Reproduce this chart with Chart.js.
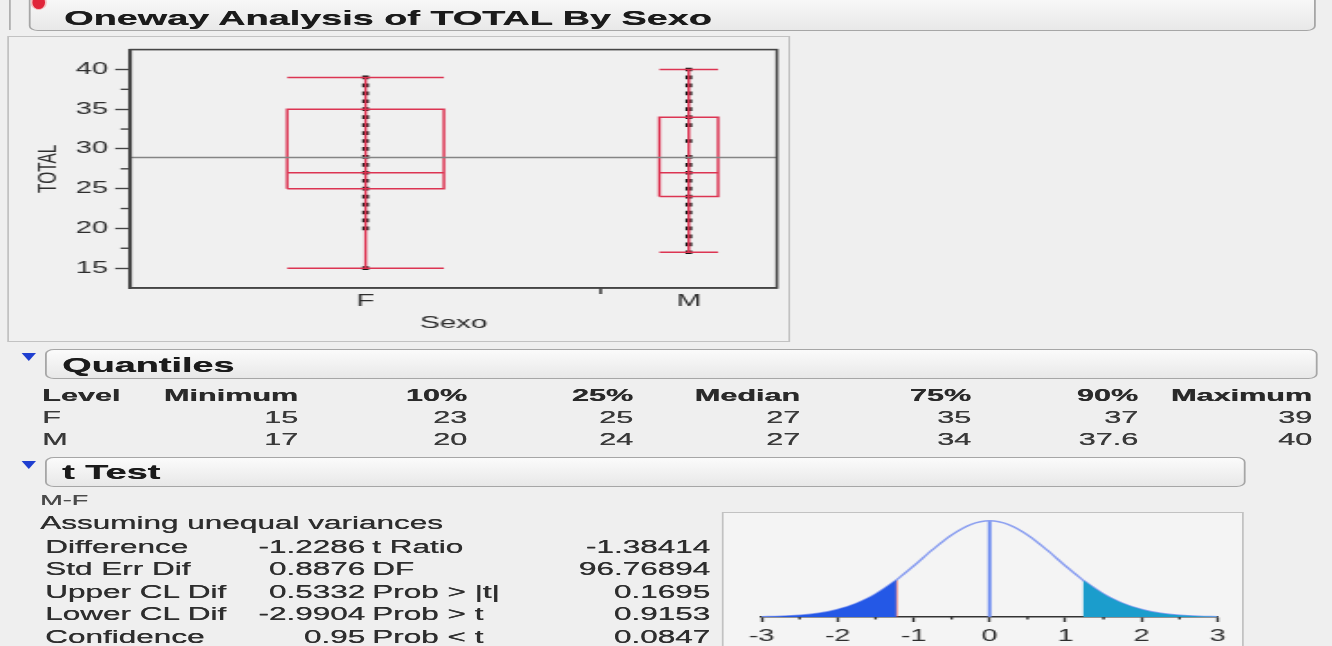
<!DOCTYPE html>
<html>
<head>
<meta charset="utf-8">
<script src="https://cdn.jsdelivr.net/npm/chart.js@4.4.1/dist/chart.umd.min.js"></script>
<style>
  html, body { margin: 0; padding: 0; width: 1332px; height: 646px; overflow: hidden; background: #efefef; }
  #page { position: absolute; left: 0; top: 0; height: 646px; transform-origin: 0 0;
          font-family: "Liberation Sans", Arial, sans-serif; color: #2e2e2e; }
  .t { position: absolute; white-space: nowrap; text-shadow: 0.3px 0 0 currentColor; }
  .bar { position: absolute; box-sizing: border-box; border: 1px solid #a6a6a6; border-radius: 5px;
         background: linear-gradient(#fbfbfb, #e8e8e8); }
  .panel { position: absolute; box-sizing: border-box; border: 1px solid #c2c2c2; }
  .tri { position: absolute; width: 0; height: 0; border-left: 4px solid transparent; border-right: 4px solid transparent;
         border-top: 8px solid #1f3fd0; }
  .chartbox { position: absolute; }
</style>
</head>
<body>
<div id="page"></div>
<script>
// Horizontal stretch of the whole report
const K = 1.8;
const PAGE_W = 1332;

// ---- data ----
const levels = ['F', 'M'];
const groupSize = [80, 30];
const quantileNames = ['Minimum', '10%', '25%', 'Median', '75%', '90%', 'Maximum'];
const quantF = [15, 23, 25, 27, 35, 37, 39];
const quantM = [17, 20, 24, 27, 34, 37.6, 40];
const pointsF = [15, 20, 21, 22, 23, 24, 25, 26, 27, 28, 29, 30, 31, 32, 33, 34, 35, 36, 37, 38, 39];
const pointsM = [17, 18, 19, 20, 21, 22, 23, 24, 25, 26, 27, 28, 29, 31, 33, 34, 35, 36, 37, 38, 39, 40];
const grandMean = 28.92;
const yTickValues = [15, 20, 25, 30, 35, 40];

const tLeftLabels = ['Difference', 'Std Err Dif', 'Upper CL Dif', 'Lower CL Dif', 'Confidence'];
const tLeftValues = [-1.2286, 0.8876, 0.5332, -2.9904, 0.95];
const tRightLabels = ['t Ratio', 'DF', 'Prob > |t|', 'Prob > t', 'Prob < t'];
const tRightValues = [-1.38414, 96.76894, 0.1695, 0.9153, 0.0847];

// density of the difference under the null (relative height)
const densityX = [-3, -2.75, -2.5, -2.25, -2, -1.75, -1.5, -1.25, -1.2286, -1, -0.75, -0.5, -0.25, 0,
                  0.25, 0.5, 0.75, 1, 1.2286, 1.25, 1.5, 1.75, 2, 2.25, 2.5, 2.75, 3];
const densityY = [0.003, 0.008, 0.019, 0.040, 0.079, 0.143, 0.240, 0.371, 0.384, 0.530, 0.700, 0.853, 0.961, 1.000,
                  0.961, 0.853, 0.700, 0.530, 0.384, 0.371, 0.240, 0.143, 0.079, 0.040, 0.019, 0.008, 0.003];
const tAxisTicks = [-3, -2, -1, 0, 1, 2, 3];

// ---- page helpers (x given in final screen pixels) ----
const page = document.getElementById('page');
page.style.width = (PAGE_W / K) + 'px';
page.style.transform = 'scaleX(' + K + ')';

function addText(str, x, yc, o) {
  o = o || {};
  const size = o.size || 17.5;
  const lh = Math.round(size * 1.2);
  const d = document.createElement('div');
  d.className = 't';
  d.textContent = str;
  d.style.fontSize = size + 'px';
  d.style.lineHeight = lh + 'px';
  d.style.top = (yc - lh / 2) + 'px';
  if (o.bold) d.style.fontWeight = 'bold';
  if (o.color) d.style.color = o.color;
  if (o.align === 'right') d.style.right = ((PAGE_W - x) / K) + 'px';
  else d.style.left = (x / K) + 'px';
  page.appendChild(d);
  return d;
}
function addBox(cls, x1, y1, x2, y2, extra) {
  const d = document.createElement('div');
  d.className = cls;
  d.style.left = (x1 / K) + 'px';
  d.style.top = y1 + 'px';
  d.style.width = ((x2 - x1) / K) + 'px';
  d.style.height = (y2 - y1) + 'px';
  if (extra) Object.assign(d.style, extra);
  page.appendChild(d);
  return d;
}
function addTri(x, y) {
  const d = document.createElement('div');
  d.className = 'tri';
  d.style.left = (x / K) + 'px';
  d.style.top = y + 'px';
  page.appendChild(d);
}

// ---- report frame ----
addBox('bar', 28, -8, 1316, 31);
addBox('panel', 9, 0, 10, 30, {borderColor: '#b0b0b0', borderWidth: '0 0 0 1px'});
addBox('t', 31, -5, 44, 8, {borderRadius: '50%', background: '#e0253a', border: '1px solid #f4c0c0', textShadow: 'none'});
addText('Oneway Analysis of TOTAL By Sexo', 64, 17, {size: 21, bold: true, color: '#1b1b1b'});

addBox('panel', 8, 36, 790, 342, {background: '#f0f0f0'});

// Quantiles block
addTri(22, 353);
addBox('bar', 45, 349, 1318, 379);
addText('Quantiles', 62, 364, {size: 21, bold: true, color: '#1b1b1b'});
const colRight = [298, 467, 633, 800, 971, 1138, 1312];
const rowY = [418, 440];
addText('Level', 42, 396, {size: 17, bold: true, color: '#2a2a2a'});
quantileNames.forEach((q, i) => addText(q, colRight[i], 396, {size: 17, bold: true, color: '#2a2a2a', align: 'right'}));
[quantF, quantM].forEach((row, r) => {
  addText(levels[r], 42, rowY[r], {size: 17, color: '#3a3a3a'});
  row.forEach((v, i) => addText(String(v), colRight[i], rowY[r], {size: 17, color: '#3a3a3a', align: 'right'}));
});

// t Test block
addTri(22, 461);
addBox('bar', 45, 457, 1245, 487);
addText('t Test', 62, 471, {size: 21, bold: true, color: '#1b1b1b'});
addText(levels[1] + '-' + levels[0], 40, 500, {size: 15, color: '#4a4a4a'});
addText('Assuming unequal variances', 40, 523, {size: 17.5});
const tRowY = [547, 569, 592, 614, 637];
tLeftLabels.forEach((lab, i) => {
  addText(lab, 45, tRowY[i], {size: 17.5});
  addText(String(tLeftValues[i]), 365, tRowY[i], {size: 17.5, align: 'right'});
  addText(tRightLabels[i], 372, tRowY[i], {size: 17.5});
  addText(String(tRightValues[i]), 710, tRowY[i], {size: 17.5, align: 'right'});
});
addBox('panel', 722, 512, 1243, 700, {background: '#f4f4f4'});

// ---- chart containers ----
function addCanvas(x1, y1, x2, y2) {
  const wrap = addBox('chartbox', x1, y1, x2, y2);
  const c = document.createElement('canvas');
  wrap.appendChild(c);
  return c;
}

Chart.defaults.font.family = '"Liberation Sans", Arial, sans-serif';
Chart.defaults.color = '#2e2e2e';

// ---- one-way box plot ----
const BOX_X1 = 8, BOX_X2 = 790, BOX_Y1 = 36, BOX_Y2 = 342;
const AREA_L = 131, AREA_R = 776, AREA_T = 47, AREA_B = 288;
const boxCanvas = addCanvas(BOX_X1, BOX_Y1, BOX_X2, BOX_Y2);

const total = groupSize.reduce((a, b) => a + b, 0);
const centers = [];
const red = '#dc3452';
const lineDs = (pts, color, w) => ({data: pts, showLine: true, borderColor: color, borderWidth: w,
                                    pointRadius: 0, fill: false, tension: 0});
const boxDatasets = [lineDs([{x: 0, y: grandMean}, {x: total, y: grandMean}], '#858585', 1.3)];
const pointDatasets = [];
let offset = 0;
[quantF, quantM].forEach((q, i) => {
  const n = groupSize[i];
  const c = offset + n / 2;
  const h = n / 6;
  centers.push(c);
  const mn = q[0], q1 = q[2], md = q[3], q3 = q[4], mx = q[6];
  boxDatasets.push(lineDs([{x: c, y: mn}, {x: c, y: mx}], red, 1.5));
  boxDatasets.push(lineDs([{x: c - h, y: q1}, {x: c + h, y: q1}, {x: c + h, y: q3}, {x: c - h, y: q3}, {x: c - h, y: q1}], red, 1.5));
  boxDatasets.push(lineDs([{x: c - h, y: md}, {x: c + h, y: md}], red, 1.5));
  boxDatasets.push(lineDs([{x: c - h, y: mn}, {x: c + h, y: mn}], red, 1.5));
  boxDatasets.push(lineDs([{x: c - h, y: mx}, {x: c + h, y: mx}], red, 1.5));
  pointDatasets.push({data: [pointsF, pointsM][i].map(v => ({x: c, y: v})), showLine: false,
                      pointStyle: 'rect', pointRadius: 2.6, pointBorderWidth: 0,
                      pointBackgroundColor: '#141414', backgroundColor: '#141414'});
  offset += n;
});

const boxFrame = {
  id: 'boxFrame',
  afterDatasetsDraw(chart) {
    const {ctx, chartArea: a, scales: {x, y}} = chart;
    ctx.save();
    ctx.strokeStyle = '#454545';
    ctx.lineWidth = 1.6;
    ctx.strokeRect(a.left, a.top, a.right - a.left, a.bottom - a.top);
    // minor ticks halfway between labelled values
    ctx.lineWidth = 1.4;
    for (let i = 0; i < yTickValues.length - 1; i++) {
      const py = y.getPixelForValue((yTickValues[i] + yTickValues[i + 1]) / 2);
      ctx.beginPath(); ctx.moveTo(a.left - 5.5, py); ctx.lineTo(a.left, py); ctx.stroke();
    }
    // group boundary tick
    const bx = x.getPixelForValue(groupSize[0]);
    ctx.lineWidth = 1.6;
    ctx.beginPath(); ctx.moveTo(bx, a.bottom); ctx.lineTo(bx, a.bottom + 6); ctx.stroke();
    ctx.restore();
  }
};

const padLeft = 8.7;
new Chart(boxCanvas, {
  type: 'scatter',
  data: {datasets: boxDatasets.concat(pointDatasets)},
  options: {
    responsive: true, maintainAspectRatio: false, animation: false,
    layout: {padding: {left: padLeft, top: AREA_T - BOX_Y1, right: (BOX_X2 - AREA_R) / K, bottom: 0}},
    plugins: {legend: {display: false}, tooltip: {enabled: false}},
    scales: {
      x: {
        type: 'linear', min: 0, max: total,
        afterBuildTicks: s => { s.ticks = centers.map(v => ({value: v})); },
        afterFit: s => { s.height = BOX_Y2 - AREA_B; },
        grid: {display: false, drawTicks: false},
        border: {display: true, color: '#454545', width: 1.6},
        ticks: {callback: (v, i) => levels[i], padding: 4, font: {size: 16.5}, color: '#2e2e2e', maxRotation: 0},
        title: {display: true, text: 'Sexo', font: {size: 16.5}, color: '#2e2e2e', padding: {top: 0, bottom: 9}}
      },
      y: {
        type: 'linear', min: 12.5, max: 42.5,
        afterBuildTicks: s => { s.ticks = yTickValues.map(v => ({value: v})); },
        afterFit: s => { s.width = (AREA_L - BOX_X1) / K - padLeft; },
        grid: {display: true, drawOnChartArea: false, drawTicks: true, tickLength: 8.5, tickColor: '#454545', tickWidth: 1.4},
        border: {display: true, color: '#454545', width: 2},
        ticks: {padding: 4, font: {size: 16}, color: '#2e2e2e'},
        title: {display: true, text: 'TOTAL', font: {size: 15.5}, color: '#2e2e2e', padding: {top: 5, bottom: 4}}
      }
    }
  },
  plugins: [boxFrame]
});

// ---- t distribution plot ----
const T_X1 = 723, T_X2 = 1242, T_Y1 = 513, T_Y2 = 653;
const T_L = 761, T_R = 1217, T_AXIS = 617;
const tCanvas = addCanvas(T_X1, T_Y1, T_X2, T_Y2);
const diff = tLeftValues[0];
const curve = densityX.map((x, i) => ({x, y: densityY[i]}));
const leftTail = curve.filter(p => p.x <= diff + 1e-9);
const rightTail = curve.filter(p => p.x >= -diff - 1e-9);
const hAt = v => densityY[densityX.indexOf(v)];

const tMinor = {
  id: 'tMinor',
  afterDraw(chart) {
    const {ctx, chartArea: a, scales: {x}} = chart;
    ctx.save();
    ctx.strokeStyle = '#333';
    ctx.lineWidth = 1.4;
    for (let i = 0; i < tAxisTicks.length - 1; i++) {
      const px = x.getPixelForValue((tAxisTicks[i] + tAxisTicks[i + 1]) / 2);
      ctx.beginPath(); ctx.moveTo(px, a.bottom); ctx.lineTo(px, a.bottom + 2.5); ctx.stroke();
    }
    ctx.restore();
  }
};

new Chart(tCanvas, {
  type: 'scatter',
  data: {datasets: [
    {data: leftTail, showLine: true, fill: 'origin', backgroundColor: '#2458e6', borderWidth: 0, pointRadius: 0,
     cubicInterpolationMode: 'monotone'},
    {data: rightTail, showLine: true, fill: 'origin', backgroundColor: '#1b9dcc', borderWidth: 0, pointRadius: 0,
     cubicInterpolationMode: 'monotone'},
    {data: curve, showLine: true, fill: false, borderColor: '#8b9ff0', borderWidth: 1.5, pointRadius: 0,
     cubicInterpolationMode: 'monotone'},
    {data: [{x: diff, y: 0}, {x: diff, y: hAt(diff)}], showLine: true, borderColor: '#e0474a', borderWidth: 1.1, pointRadius: 0},
    {data: [{x: 0, y: 0}, {x: 0, y: hAt(0)}], showLine: true, borderColor: '#6e8cf0', borderWidth: 2, pointRadius: 0}
  ]},
  options: {
    responsive: true, maintainAspectRatio: false, animation: false,
    layout: {padding: {left: (T_L - T_X1) / K, right: (T_X2 - T_R) / K, top: 4, bottom: 0}},
    plugins: {legend: {display: false}, tooltip: {enabled: false}},
    scales: {
      x: {
        type: 'linear', min: tAxisTicks[0], max: tAxisTicks[tAxisTicks.length - 1],
        afterBuildTicks: s => { s.ticks = tAxisTicks.map(v => ({value: v})); },
        afterFit: s => { s.height = T_Y2 - T_AXIS; },
        grid: {display: true, drawOnChartArea: false, drawTicks: true, tickLength: 5, tickColor: '#333', tickWidth: 1.4},
        border: {display: true, color: '#333', width: 1.4},
        ticks: {padding: 5, font: {size: 16}, color: '#2e2e2e', maxRotation: 0}
      },
      y: {display: false, min: 0, max: 1.04}
    }
  },
  plugins: [tMinor]
});
</script>
</body>
</html>
